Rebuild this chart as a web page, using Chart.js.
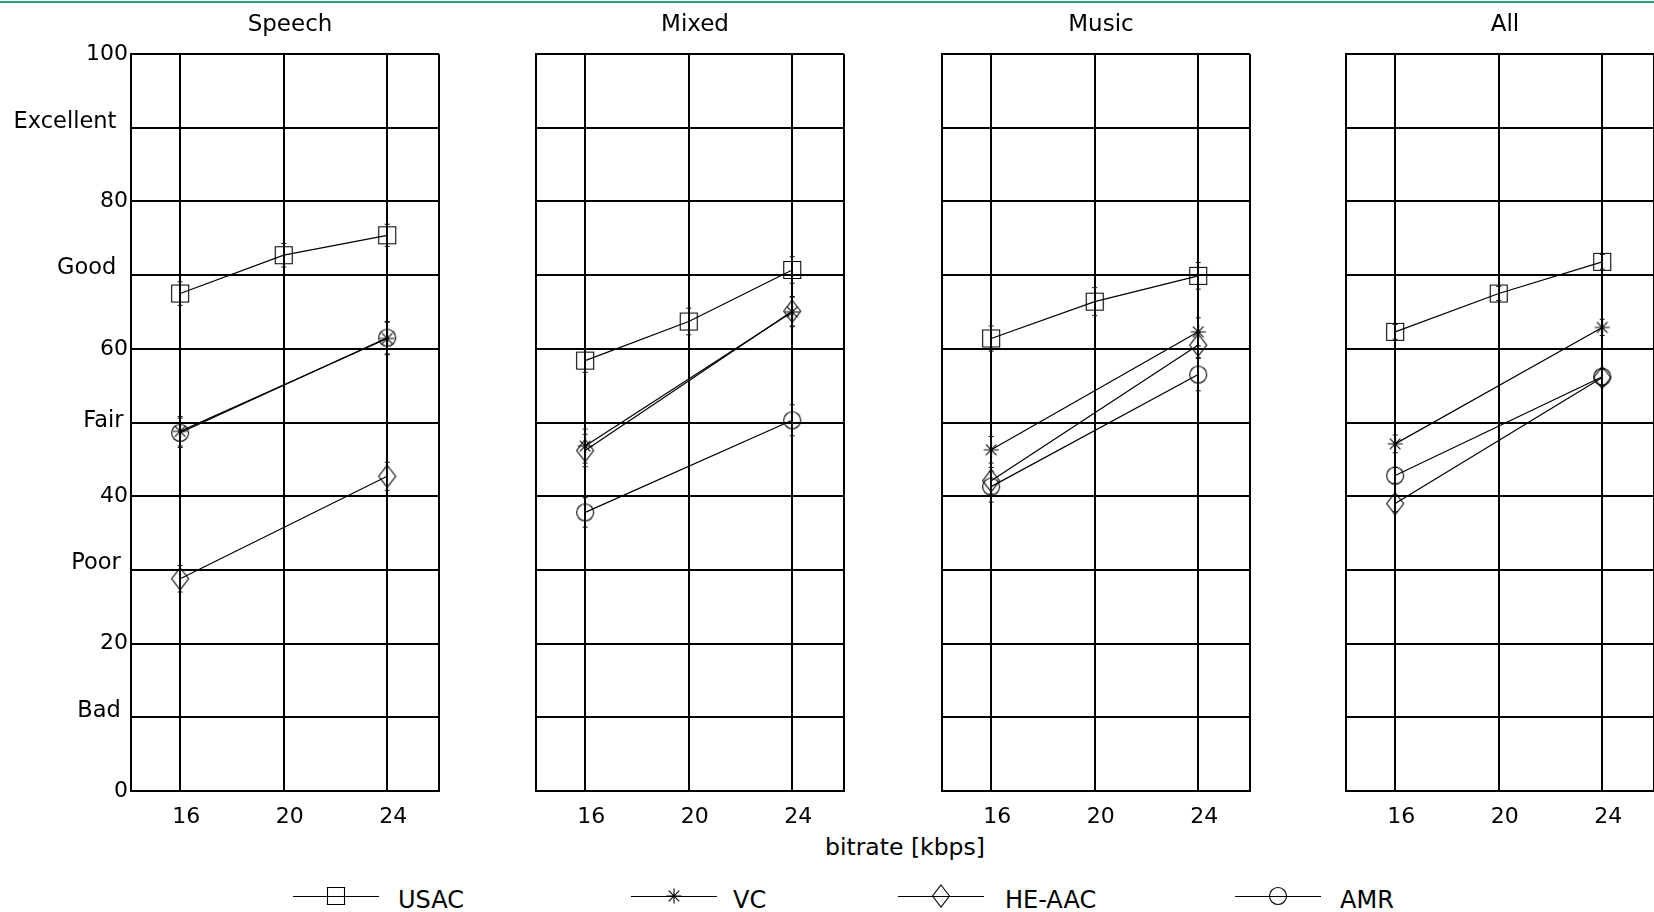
<!DOCTYPE html>
<html>
<head>
<meta charset="utf-8">
<script src="https://cdn.jsdelivr.net/npm/chart.js@4/dist/chart.umd.min.js"></script>
<style>
html,body{margin:0;padding:0;width:1654px;height:912px;overflow:hidden;background:#fff;font-family:"DejaVu Sans",sans-serif;}
#topline{position:absolute;left:0;top:1px;width:1654px;height:2px;background:#2b9e80;}
canvas{position:absolute;}
#xlabel{position:absolute;left:705px;width:400px;top:833px;height:28px;line-height:28px;text-align:center;font-size:23.5px;color:#000;white-space:nowrap;}
.legtext{position:absolute;height:30px;line-height:30px;font-size:24px;color:#000;white-space:nowrap;}
</style>
</head>
<body>
<div id="topline"></div>
<div id="xlabel">bitrate [kbps]</div>
<script>
// ---------------- data ----------------
const panels = ['Speech', 'Mixed', 'Music', 'All'];
const seriesNames = ['USAC', 'VC', 'HE-AAC', 'AMR'];
const usacRates = [16, 20, 24];
const otherRates = [16, 24];
const xTicks = [16, 20, 24];
const yTickValues = [0, 10, 20, 30, 40, 50, 60, 70, 80, 90, 100];
const yTickLabels = ['0', 'Bad', '20', 'Poor', '40', 'Fair', '60', 'Good', '80', 'Excellent', '100'];

// scores per panel (Speech, Mixed, Music, All)
const usacScores  = [[67.5, 72.7, 75.4], [58.4, 63.7, 70.7], [61.4, 66.4, 69.9], [62.3, 67.5, 71.8]];
const vcScores    = [[48.8, 61.4], [46.8, 65.0], [46.3, 62.3], [47.1, 62.9]];
const heaacScores = [[28.8, 42.7], [46.2, 65.1], [42.1, 60.5], [39.0, 56.1]];
const amrScores   = [[48.6, 61.5], [37.8, 50.3], [41.3, 56.5], [42.8, 56.2]];

// confidence half-widths
const usacErr  = [[1.6, 1.6, 1.5], [1.6, 1.8, 1.8], [1.7, 1.9, 1.8], [1.0, 0.95, 1.0]];
const vcErr    = [[2.0, 2.2], [2.3, 2.0], [1.8, 1.9], [1.2, 1.1]];
const heaacErr = [[1.8, 1.9], [2.2, 2.0], [1.8, 1.7], [1.1, 1.1]];
const amrErr   = [[2.0, 2.2], [2.0, 2.1], [2.1, 2.2], [1.1, 1.1]];

// ---------------- layout ----------------
const FONT = 'DejaVu Sans';
const TOP = 54, BOTTOM = 791, PW = 308, CH = 860;
const PLEFT = [131, 535.5, 942, 1346];
const YW = [131, 40, 40, 40];
const TITLE_SIZE = 23, TITLE_LH = 23 * 1.2, TITLE_PT = 10.8;

function markerCanvas(kind) {
  const c = document.createElement('canvas');
  c.width = 26; c.height = 26;
  const g = c.getContext('2d');
  g.strokeStyle = '#000';
  g.lineWidth = 1.1;
  const m = 13;
  g.beginPath();
  if (kind === 'square') {
    g.rect(m - 8.5, m - 8.5, 17, 17);
  } else if (kind === 'star') {
    const r = 7.5;
    for (let k = 0; k < 4; k++) {
      const a = k * Math.PI / 4;
      g.moveTo(m - r * Math.cos(a), m - r * Math.sin(a));
      g.lineTo(m + r * Math.cos(a), m + r * Math.sin(a));
    }
  } else if (kind === 'diamond') {
    g.moveTo(m, m - 11); g.lineTo(m + 8.5, m); g.lineTo(m, m + 11); g.lineTo(m - 8.5, m); g.closePath();
  } else {
    g.arc(m, m, 8.5, 0, Math.PI * 2);
  }
  g.stroke();
  return c;
}
const markers = [markerCanvas('square'), markerCanvas('star'), markerCanvas('diamond'), markerCanvas('circle')];

const errorBarPlugin = {
  id: 'errorBars',
  beforeDatasetsDraw(chart) {
    const { ctx, scales: { x, y } } = chart;
    ctx.save();
    ctx.strokeStyle = '#111';
    ctx.lineWidth = 1;
    chart.data.datasets.forEach(ds => {
      ds.data.forEach((p, j) => {
        const e = ds.errors[j];
        const px = x.getPixelForValue(p.x);
        const lo = y.getPixelForValue(p.y - e), hi = y.getPixelForValue(p.y + e);
        ctx.beginPath();
        ctx.moveTo(px, lo); ctx.lineTo(px, hi);
        ctx.moveTo(px - 2.5, lo); ctx.lineTo(px + 2.5, lo);
        ctx.moveTo(px - 2.5, hi); ctx.lineTo(px + 2.5, hi);
        ctx.stroke();
      });
    });
    ctx.restore();
  }
};

function pts(xs, ys) { return xs.map((v, k) => ({ x: v, y: ys[k] })); }

// vertical lift of the verbal labels (via line height of a 2-line label)
function wordLineHeight(v) {
  if (v === 50) return '2px';
  if (v === 90) return '11px';
  return '13px';
}
// horizontal inset of the verbal labels (trailing spacing)
function wordTrail(v) {
  if (v === 50) return '\u2009';
  if (v === 70 || v === 90) return ' \u2009';
  return ' ';
}

function makePanel(i) {
  const yw = YW[i];
  const pr = yw + 10;
  const cw = yw + PW + pr;
  const cv = document.createElement('canvas');
  cv.width = cw; cv.height = CH;
  cv.style.left = (PLEFT[i] - yw) + 'px';
  cv.style.top = '0px';
  cv.style.width = cw + 'px';
  cv.style.height = CH + 'px';
  document.body.appendChild(cv);

  const sets = [
    [usacRates, usacScores[i], usacErr[i]],
    [otherRates, vcScores[i], vcErr[i]],
    [otherRates, heaacScores[i], heaacErr[i]],
    [otherRates, amrScores[i], amrErr[i]]
  ];
  const datasets = sets.map((s, k) => ({
    label: seriesNames[k],
    data: pts(s[0], s[1]),
    errors: s[2],
    borderColor: '#000',
    borderWidth: 1.2,
    pointStyle: markers[k],
    pointRadius: 9,
    fill: false,
    tension: 0,
    yAxisID: 'y',
    xAxisID: 'x'
  }));

  new Chart(cv, {
    type: 'line',
    data: { datasets },
    plugins: [errorBarPlugin],
    options: {
      responsive: false,
      animation: false,
      devicePixelRatio: 1,
      events: [],
      layout: { padding: 0 },
      plugins: {
        legend: { display: false },
        tooltip: { enabled: false },
        title: {
          display: true,
          text: panels[i],
          color: '#000',
          font: { family: FONT, size: TITLE_SIZE, weight: 'normal', lineHeight: 1.2 },
          padding: { top: TITLE_PT, bottom: TOP - TITLE_PT - TITLE_LH }
        }
      },
      scales: {
        x: {
          type: 'linear',
          min: 14.1,
          max: 26,
          afterBuildTicks: ax => { ax.ticks = [14.1].concat(xTicks, [26]).map(v => ({ value: v })); },
          afterFit: s => { s.height = CH - BOTTOM; },
          ticks: {
            autoSkip: false, maxRotation: 0, minRotation: 0,
            padding: 13, labelOffset: 6,
            color: '#000',
            font: { family: FONT, size: 22 },
            callback: v => xTicks.includes(v) ? String(v) : ''
          },
          grid: { color: '#000', lineWidth: 2, drawTicks: false },
          border: { display: true, color: '#000', width: 2 }
        },
        y: {
          type: 'linear',
          position: 'left',
          min: 0,
          max: 100,
          afterBuildTicks: ax => { ax.ticks = yTickValues.map(v => ({ value: v })); },
          afterFit: s => { s.width = yw; },
          ticks: {
            display: i === 0,
            padding: 3,
            color: '#000',
            font: c => {
              const v = c.tick ? c.tick.value : 0;
              return (v % 20 !== 0)
                ? { family: FONT, size: 22.5, lineHeight: wordLineHeight(v) }
                : { family: FONT, size: 22, lineHeight: 1.2 };
            },
            callback: v => {
              const lab = yTickLabels[yTickValues.indexOf(v)];
              return (v % 20 === 0) ? lab : [lab + wordTrail(v), ''];
            }
          },
          grid: { color: '#000', lineWidth: 2, drawTicks: false },
          border: { display: true, color: '#000', width: 2 }
        },
        spacer: {
          type: 'linear',
          position: 'right',
          display: true,
          afterFit: s => { s.width = pr; },
          grid: { display: false },
          ticks: { display: false },
          border: { display: false }
        }
      }
    }
  });
}

panels.forEach((p, i) => makePanel(i));

// ---------------- legend ----------------
const legLineStart = [293, 631, 898, 1235];
const legTextLeft = [398, 733, 1005, 1340];
seriesNames.forEach((name, k) => {
  const c = document.createElement('canvas');
  c.width = 86; c.height = 30;
  c.style.left = legLineStart[k] + 'px';
  c.style.top = (896 - 15) + 'px';
  const g = c.getContext('2d');
  g.strokeStyle = '#000'; g.lineWidth = 1;
  g.beginPath(); g.moveTo(0, 15.5); g.lineTo(86, 15.5); g.stroke();
  g.drawImage(markers[k], 43 - 13, 15 - 13);
  document.body.appendChild(c);
  const t = document.createElement('div');
  t.className = 'legtext';
  t.textContent = name;
  t.style.left = legTextLeft[k] + 'px';
  t.style.top = '885px';
  document.body.appendChild(t);
});
</script>
</body>
</html>
